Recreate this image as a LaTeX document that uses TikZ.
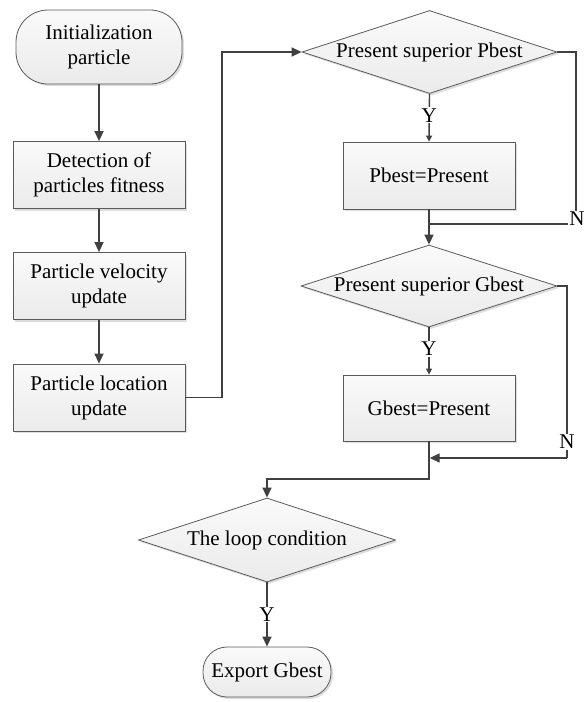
\documentclass[tikz,border=0pt]{standalone}
\usepackage{fontspec}
\setmainfont{Liberation Serif}
\usetikzlibrary{arrows.meta,shapes.geometric,shadows}
\definecolor{linec}{HTML}{404040}
\definecolor{bordc}{HTML}{5A5A5A}
\begin{document}
\begin{tikzpicture}[x=1pt,y=-1pt,
  font=\fontsize{21}{25}\selectfont,
  base/.style={draw=bordc, line width=0.8pt, top color=gray!4, bottom color=gray!16,
    drop shadow={shadow xshift=2pt, shadow yshift=-2pt, fill=gray!45, opacity=0.6}},
  procbox/.style={base, rectangle, minimum width=172pt, minimum height=67pt, inner sep=0pt, align=center},
  termbox/.style={base, rectangle, inner sep=0pt, align=center},
  decbox/.style={base, diamond, inner sep=0pt, aspect=3.07},
  conn/.style={draw=linec, line width=1.4pt, -{Triangle[length=10pt,width=9pt]}},
  connsmall/.style={draw=linec, line width=1.4pt, -{Triangle[length=6pt,width=6pt]}},
  plain/.style={draw=linec, line width=1.4pt},
  lab/.style={fill=white, inner sep=1pt}
]
\useasboundingbox (0,0) rectangle (585,702);

% left column
\node[termbox, minimum width=166pt, minimum height=74pt, rounded corners=32pt] (init) at (99,47) {Initialization\\particle};
\node[procbox] (det) at (99,175) {Detection of\\particles fitness};
\node[procbox] (vel) at (99,286) {Particle velocity\\update};
\node[procbox] (loc) at (99,397.5) {Particle location\\update};

% right column
\node[decbox, minimum width=255pt, minimum height=83pt] (d1) at (429.5,52) {\makebox[0pt]{Present superior Pbest}};
\node[procbox] (pb) at (429,175.5) {Pbest=Present};
\node[decbox, minimum width=256pt, minimum height=82pt] (d2) at (429,286) {\makebox[0pt]{Present superior Gbest}};
\node[procbox, minimum height=66pt] (gb) at (429,408) {Gbest=Present};

% bottom
\node[decbox, minimum width=257pt, minimum height=84pt] (d3) at (267,540) {\makebox[0pt]{The loop condition}};
\node[termbox, minimum width=128pt, minimum height=50pt, rounded corners=24pt] (exp) at (267,672) {Export Gbest};

% helper coordinates
\coordinate (c1) at (222,397.5);
\coordinate (c2) at (222,52);
\coordinate (n1c) at (576,52);
\coordinate (n1b) at (576,224);
\coordinate (m1) at (429,224);
\coordinate (n2c) at (567,286);
\coordinate (n2b) at (567,458);
\coordinate (m2) at (429,458);
\coordinate (j1) at (429,479);
\coordinate (j2) at (267,479);

% connectors
\draw[conn] (init) -- (det);
\draw[conn] (det) -- (vel);
\draw[conn] (vel) -- (loc);
\draw[conn] (loc.east) -- (c1) -- (c2) -- (d1.west);

\draw[connsmall] (d1.south) -- node[lab, pos=0.45] (y1) {Y} (pb.north);
\draw[plain] (d1.east) -- (n1c) -- (n1b) -- (m1);
\node[lab] (n1) at (577,219) {N};
\draw[conn] (pb.south) -- (d2.north);

\draw[connsmall] (d2.south) -- node[lab, pos=0.45] (y2) {Y} (gb.north);
\draw[plain] (d2.east) -- (n2c) -- (n2b);
\draw[conn] (n2b) -- ([xshift=0.7pt]m2);
\node[lab] (n2) at (567,442) {N};

\draw[conn] (gb.south) -- (j1) -- (j2) -- (d3.north);
\draw[conn] (d3.south) -- node[lab, pos=0.5] (y3) {Y} (exp.north);
\end{tikzpicture}
\end{document}
